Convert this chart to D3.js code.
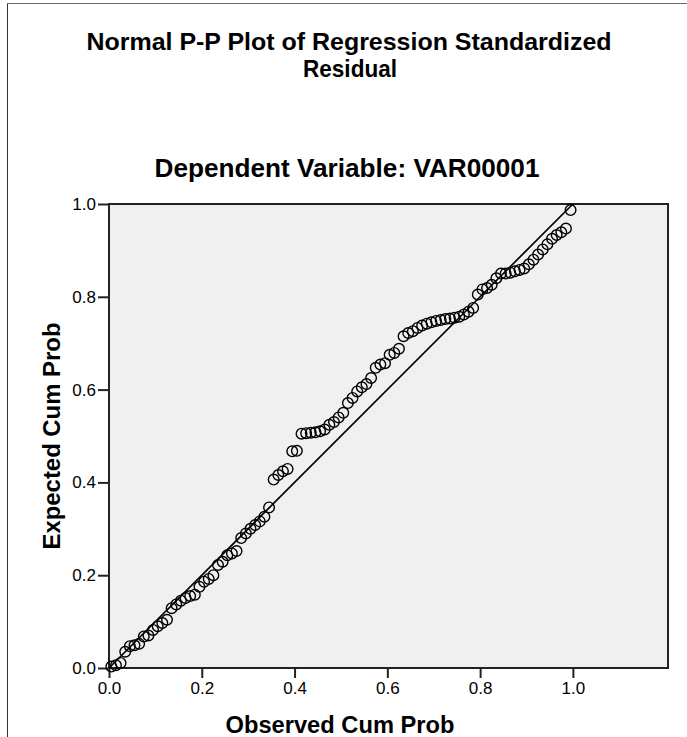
<!DOCTYPE html>
<html>
<head>
<meta charset="utf-8">
<script src="https://cdn.jsdelivr.net/npm/d3@7"></script>
<style>
  body { margin: 0; background: #fff; }
  text { font-family: "Liberation Sans", Arial, sans-serif; fill: #000; }
</style>
</head>
<body>
<div id="chart"></div>
<script>
// observed cum prob (x) and expected cum prob (y)
var observed = [0.005,0.015,0.025,0.035,0.045,0.055,0.065,0.075,0.085,0.095,
  0.105,0.115,0.125,0.135,0.145,0.155,0.165,0.175,0.185,0.195,
  0.205,0.215,0.225,0.235,0.245,0.255,0.265,0.275,0.285,0.295,
  0.305,0.315,0.325,0.335,0.345,0.355,0.365,0.375,0.385,0.395,
  0.405,0.415,0.425,0.435,0.445,0.455,0.465,0.475,0.485,0.495,
  0.505,0.515,0.525,0.535,0.545,0.555,0.565,0.575,0.585,0.595,
  0.605,0.615,0.625,0.635,0.645,0.655,0.665,0.675,0.685,0.695,
  0.705,0.715,0.725,0.735,0.745,0.755,0.765,0.775,0.785,0.795,
  0.805,0.815,0.825,0.835,0.845,0.855,0.865,0.875,0.885,0.895,
  0.905,0.915,0.925,0.935,0.945,0.955,0.965,0.975,0.985,0.995];
var expected = [0.003,0.006,0.011,0.035,0.047,0.049,0.052,0.068,0.070,0.082,
  0.090,0.097,0.104,0.129,0.137,0.145,0.151,0.155,0.158,0.175,
  0.186,0.192,0.200,0.222,0.229,0.243,0.247,0.252,0.280,0.290,
  0.300,0.308,0.316,0.326,0.346,0.406,0.416,0.424,0.429,0.467,
  0.468,0.505,0.506,0.507,0.508,0.510,0.514,0.524,0.530,0.540,
  0.550,0.571,0.582,0.596,0.605,0.612,0.625,0.647,0.654,0.657,
  0.675,0.679,0.688,0.715,0.722,0.726,0.733,0.738,0.742,0.745,
  0.748,0.750,0.752,0.753,0.755,0.757,0.762,0.768,0.776,0.805,
  0.816,0.819,0.826,0.840,0.850,0.850,0.852,0.855,0.858,0.861,
  0.870,0.880,0.891,0.902,0.913,0.925,0.933,0.939,0.947,0.987];
var xTicks = [0, 0.2, 0.4, 0.6, 0.8, 1.0];
var yTicks = [0, 0.2, 0.4, 0.6, 0.8, 1.0];
var refLine = [[0, 0], [1, 1]];

var W = 687, H = 737;
var plotL = 109, plotR = 668, plotT = 204, plotB = 668;

var svg = d3.select("#chart").append("svg")
  .attr("width", W).attr("height", H);

// outer frame (only left and top edges show)
svg.append("line").attr("x1", 7.5).attr("y1", 3.5).attr("x2", W).attr("y2", 3.5)
  .attr("stroke", "#666").attr("stroke-width", 1);
svg.append("line").attr("x1", 7.5).attr("y1", 3.5).attr("x2", 7.5).attr("y2", H)
  .attr("stroke", "#333").attr("stroke-width", 1);

// titles
svg.append("text").attr("x", 349).attr("y", 50).attr("text-anchor", "middle")
  .style("font-size", "24px").style("font-weight", "bold")
  .attr("textLength", 525).attr("lengthAdjust", "spacingAndGlyphs")
  .text("Normal P-P Plot of Regression Standardized");
svg.append("text").attr("x", 350).attr("y", 77).attr("text-anchor", "middle")
  .style("font-size", "24px").style("font-weight", "bold")
  .attr("textLength", 94).attr("lengthAdjust", "spacingAndGlyphs")
  .text("Residual");
svg.append("text").attr("x", 347).attr("y", 177).attr("text-anchor", "middle")
  .style("font-size", "25px").style("font-weight", "bold")
  .attr("textLength", 385).attr("lengthAdjust", "spacingAndGlyphs")
  .text("Dependent Variable: VAR00001");

var x = d3.scaleLinear().domain([0, 1.205]).range([plotL, plotR]);
var y = d3.scaleLinear().domain([0, 1]).range([plotB, plotT]);

// plot area
svg.append("rect").attr("x", plotL).attr("y", plotT)
  .attr("width", plotR - plotL).attr("height", plotB - plotT)
  .attr("fill", "#f0f0f0").attr("stroke", "#222").attr("stroke-width", 2);

var fmt = d3.format(".1f");

var gx = svg.append("g").attr("transform", "translate(0," + plotB + ")")
  .call(d3.axisBottom(x).tickValues(xTicks).tickFormat(fmt).tickSize(10).tickPadding(4));
var gy = svg.append("g").attr("transform", "translate(" + plotL + ",0)")
  .call(d3.axisLeft(y).tickValues(yTicks).tickFormat(fmt).tickSize(11).tickPadding(2));
[gx, gy].forEach(function(g) {
  g.attr("font-size", 17).attr("font-family", "'Liberation Sans', Arial, sans-serif");
  g.select(".domain").remove();
  g.selectAll(".tick line").attr("stroke", "#222").attr("stroke-width", 2);
  g.selectAll(".tick text").attr("fill", "#000");
});

// 45 degree reference line
svg.append("line")
  .attr("x1", x(refLine[0][0])).attr("y1", y(refLine[0][1]))
  .attr("x2", x(refLine[1][0])).attr("y2", y(refLine[1][1]))
  .attr("stroke", "#000").attr("stroke-width", 1.7);

// points
svg.append("g").selectAll("circle")
  .data(observed)
  .enter().append("circle")
  .attr("cx", function(d) { return x(d); })
  .attr("cy", function(d, i) { return y(expected[i]); })
  .attr("r", 5.3)
  .attr("fill", "none")
  .attr("stroke", "#000")
  .attr("stroke-width", 1.4);

// axis titles
svg.append("text").attr("x", 340).attr("y", 733).attr("text-anchor", "middle")
  .style("font-size", "23px").style("font-weight", "bold")
  .attr("textLength", 229).attr("lengthAdjust", "spacingAndGlyphs")
  .text("Observed Cum Prob");
svg.append("text").attr("transform", "translate(60,436) rotate(-90)")
  .attr("text-anchor", "middle")
  .style("font-size", "23px").style("font-weight", "bold")
  .attr("textLength", 227).attr("lengthAdjust", "spacingAndGlyphs")
  .text("Expected Cum Prob");
</script>
</body>
</html>
